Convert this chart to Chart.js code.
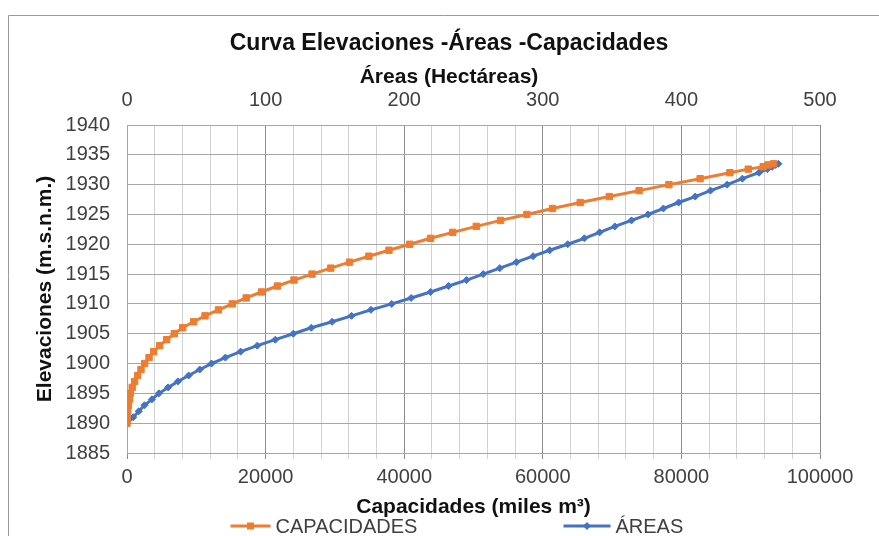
<!DOCTYPE html>
<html>
<head>
<meta charset="utf-8">
<script src="https://cdn.jsdelivr.net/npm/chart.js@4/dist/chart.umd.min.js"></script>
<style>
html, body { margin: 0; padding: 0; background: #fff; }
</style>
</head>
<body>
<canvas id="myChart" width="879" height="536"></canvas>
<script>
// elevation levels (m.s.n.m.)
const elevaciones = [
	1890, 1891, 1892, 1893, 1894, 1895, 1896, 1897, 1898, 1899,
	1900, 1901, 1902, 1903, 1904, 1905, 1906, 1907, 1908, 1909,
	1910, 1911, 1912, 1913, 1914, 1915, 1916, 1917, 1918, 1919,
	1920, 1921, 1922, 1923, 1924, 1925, 1926, 1927, 1928, 1929,
	1930, 1931, 1932, 1932.6, 1933, 1933.3, 1933.5
];
// storage at each level (miles m3)
const capacidades = [
	0, 50, 100, 200, 330, 480, 750, 1100, 1540, 2020,
	2550, 3180, 3850, 4720, 5720, 6830, 8030, 9620, 11260, 13200,
	15200, 17200, 19400, 21700, 24100, 26700, 29400, 32100, 34900, 37800,
	40800, 43800, 47000, 50400, 53900, 57700, 61400, 65400, 69600, 73900,
	78200, 82700, 87000, 89650, 91800, 92500, 93300
];
// flooded area at each level (ha)
const areas = [
	0, 4.5, 8.5, 12.6, 18, 23, 29.7, 36.7, 44.5, 52.5,
	61, 71, 82, 94, 107, 120, 133, 148, 162, 176,
	191, 205, 219, 232, 245, 257, 269, 281, 293, 305,
	318, 330, 341, 352, 364, 376, 387, 398, 410, 421,
	433, 444, 456, 462, 465.5, 468, 470
];

const orange = '#ED7D31';
const blue = '#4472C4';
const fontFam = "'Liberation Sans', Arial, sans-serif";

let capPoints = [];
let areaPoints = [];
for (let i = 0; i < elevaciones.length; i++) {
	capPoints.push({ x: capacidades[i], y: elevaciones[i] });
	areaPoints.push({ x: areas[i], y: elevaciones[i] });
}

// outer frame and white background
const framePlugin = {
	id: 'frame',
	beforeDraw(chart) {
		const c = chart.ctx;
		c.save();
		c.fillStyle = '#fff';
		c.fillRect(0, 0, chart.width, chart.height);
		c.strokeStyle = '#9a9a9a';
		c.lineWidth = 1;
		c.beginPath();
		c.moveTo(8.5, chart.height);
		c.lineTo(8.5, 15.5);
		c.lineTo(chart.width, 15.5);
		c.stroke();
		c.restore();
	}
};

// chart title and the top axis title, centred on the frame
const headPlugin = {
	id: 'heads',
	afterDraw(chart) {
		const c = chart.ctx;
		const mid = (chart.width + 19) / 2;
		c.save();
		c.fillStyle = '#111';
		c.textAlign = 'center';
		c.textBaseline = 'middle';
		c.font = 'bold 23px ' + fontFam;
		c.fillText('Curva Elevaciones -Áreas -Capacidades', mid, 44);
		c.font = 'bold 21px ' + fontFam;
		c.fillText('Áreas (Hectáreas)', mid, 77);
		c.restore();
	}
};

// legend: line with marker, then the series name
const legendPlugin = {
	id: 'lineLegend',
	afterDraw(chart) {
		const c = chart.ctx;
		const y = 526;
		const mid = chart.width / 2;
		const items = [
			{ x: mid - 209, len: 40, color: orange, text: 'CAPACIDADES', mark: 'rect' },
			{ x: mid + 124, len: 47, color: blue, text: 'ÁREAS', mark: 'diamond' }
		];
		c.save();
		c.font = '20px ' + fontFam;
		c.textBaseline = 'middle';
		items.forEach(it => {
			c.strokeStyle = it.color;
			c.lineWidth = 3;
			c.beginPath();
			c.moveTo(it.x, y);
			c.lineTo(it.x + it.len, y);
			c.stroke();
			const cx = it.x + it.len / 2;
			c.fillStyle = it.color;
			if (it.mark === 'rect') {
				c.fillRect(cx - 3.5, y - 3.5, 7, 7);
			} else {
				c.beginPath();
				c.moveTo(cx, y - 4);
				c.lineTo(cx + 4, y);
				c.lineTo(cx, y + 4);
				c.lineTo(cx - 4, y);
				c.closePath();
				c.fill();
			}
			c.fillStyle = '#404040';
			c.fillText(it.text, it.x + it.len + 5, y + 1);
		});
		c.restore();
	}
};

const ctx = document.getElementById('myChart').getContext('2d');
const myChart = new Chart(ctx, {
	type: 'scatter',
	data: {
		datasets: [{
			label: 'CAPACIDADES',
			data: capPoints,
			xAxisID: 'x',
			yAxisID: 'y',
			showLine: true,
			borderColor: orange,
			backgroundColor: orange,
			borderWidth: 3,
			pointStyle: 'rect',
			pointRadius: 4.5,
			pointBorderWidth: 1,
			tension: 0
		}, {
			label: 'ÁREAS',
			data: areaPoints,
			xAxisID: 'x2',
			yAxisID: 'y',
			showLine: true,
			borderColor: blue,
			backgroundColor: blue,
			borderWidth: 3,
			pointStyle: 'rectRot',
			pointRadius: 3.5,
			pointBorderWidth: 1,
			tension: 0
		}]
	},
	options: {
		responsive: false,
		animation: false,
		layout: { padding: { left: 0, right: 59, top: 0, bottom: 16 } },
		plugins: {
			legend: { display: false },
			tooltip: { enabled: false },
			title: { display: false }
		},
		scales: {
			x: {
				type: 'linear',
				position: 'bottom',
				min: 0,
				max: 100000,
				afterFit(scale) { scale.height = 67; },
				ticks: {
					stepSize: 4000,
					autoSkip: false,
					maxRotation: 0,
					padding: 6,
					color: '#404040',
					font: { family: fontFam, size: 20 },
					callback: v => (v % 20000 === 0 ? String(v) : '')
				},
				grid: {
					color: c => (c.tick && c.tick.value % 20000 === 0 ? '#8c8c8c' : '#d2d2d2'),
					tickLength: 6
				},
				border: { color: '#a6a6a6' },
				title: {
					display: true,
					text: 'Capacidades (miles m³)',
					color: '#111',
					font: { family: fontFam, size: 21, weight: 'bold' },
					padding: { top: 0, bottom: 0 }
				}
			},
			x2: {
				type: 'linear',
				position: 'top',
				min: 0,
				max: 500,
				afterFit(scale) { scale.height = 125; },
				ticks: {
					stepSize: 100,
					maxRotation: 0,
					padding: 13,
					color: '#404040',
					font: { family: fontFam, size: 20 },
					callback: v => String(v)
				},
				grid: { display: false, drawTicks: false },
				border: { display: false }
			},
			y: {
				type: 'linear',
				min: 1885,
				max: 1940,
				afterFit(scale) { scale.width = 127; },
				ticks: {
					stepSize: 5,
					padding: 17,
					color: '#404040',
					font: { family: fontFam, size: 20 },
					callback: v => String(v)
				},
				grid: { color: '#a6a6a6', drawTicks: false },
				border: { color: '#a6a6a6' },
				title: {
					display: true,
					text: 'Elevaciones (m.s.n.m.)',
					color: '#111',
					font: { family: fontFam, size: 21, weight: 'bold' },
					padding: { top: 33, bottom: 0 }
				}
			}
		}
	},
	plugins: [framePlugin, headPlugin, legendPlugin]
});
</script>
</body>
</html>
